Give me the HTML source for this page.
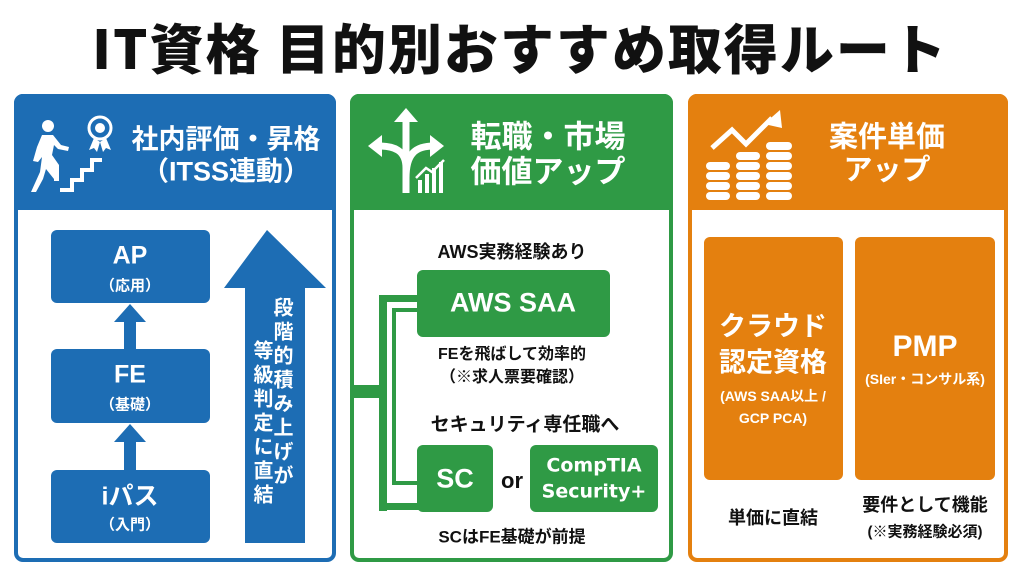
<!DOCTYPE html>
<html><head><meta charset="utf-8"><style>
*{margin:0;padding:0;box-sizing:border-box}
body{width:1024px;height:572px;background:#fff;position:relative;overflow:hidden;font-family:"Liberation Sans","Noto Sans CJK JP",sans-serif;font-weight:bold}
.a{position:absolute}
.t{position:absolute;white-space:nowrap;transform:translate(-50%,-50%);line-height:1}
.w{color:#fff}
.k{color:#111}
.panel{position:absolute;border-radius:9px;border:4px solid}
.box{position:absolute;border-radius:6px}
.v{position:absolute;writing-mode:vertical-rl;font-size:20px;line-height:20px;letter-spacing:4px;color:#fff;white-space:nowrap;font-family:"Noto Sans CJK JP",sans-serif}
</style></head><body>
<div class="t k" style="left:520px;top:46px;font-size:54px;font-weight:900;letter-spacing:2px;font-family:'Noto Sans CJK JP',sans-serif">IT資格 目的別おすすめ取得ルート</div>

<!-- panel 1 -->
<div class="panel" style="left:14px;top:94px;width:322px;height:468px;border-color:#1d6db4"></div>
<div class="a" style="left:14px;top:94px;width:322px;height:116px;background:#1d6db4;border-radius:9px 9px 0 0"></div>
<svg class="a" style="left:28px;top:108px" width="90" height="90" viewBox="0 0 90 90">
<g fill="#fff"><circle cx="20" cy="18" r="6"/><path d="M14 27h11l8 10 8 2-1 4-10-2-4-4-2 10 7 10v16h-5V71l-8-10-3 10-7 13H3l9-20 2-15-4 5-5-1 4-14z"/>
<path d="M32 84v-4h10v-10h10v-10h10v-10h12v4h-8v10h-10v10h-10v10h-10v0z" /></g>
<g fill="none" stroke="#fff" stroke-width="3"><circle cx="72" cy="20" r="11"/></g><circle cx="72" cy="20" r="5" fill="#fff"/>
<path d="M66 30l-5 12 5-2 3 4 3-10zM78 30l5 12-5-2-3 4-3-10z" fill="#fff"/>
</svg>
<div class="t w" style="left:226px;top:140px;font-size:27px">社内評価・昇格</div>
<div class="t w" style="left:226px;top:172px;font-size:27px">（ITSS連動）</div>
<div class="box" style="left:51px;top:230px;width:159px;height:73px;background:#1d6db4"></div>
<div class="t w" style="left:130px;top:256px;font-size:25px">AP</div>
<div class="t w" style="left:130px;top:286px;font-size:15px">（応用）</div>
<div class="box" style="left:51px;top:349px;width:159px;height:74px;background:#1d6db4"></div>
<div class="t w" style="left:130px;top:375px;font-size:25px">FE</div>
<div class="t w" style="left:130px;top:405px;font-size:15px">（基礎）</div>
<div class="box" style="left:51px;top:470px;width:159px;height:73px;background:#1d6db4"></div>
<div class="t w" style="left:130px;top:497px;font-size:25px">iパス</div>
<div class="t w" style="left:130px;top:525px;font-size:15px">（入門）</div>
<svg class="a" style="left:0;top:0" width="340" height="572">
<g fill="#1d6db4">
<path d="M130 304l16 18h-10v28h-12v-28h-10z"/>
<path d="M130 424l16 18h-10v28h-12v-28h-10z"/>
<path d="M267 230l59 58h-21v255h-60v-255h-21z"/>
</g></svg>
<div class="v" style="left:273px;top:297px">段階的積み上げが</div>
<div class="v" style="left:253px;top:340px">等級判定に直結</div>

<!-- panel 2 -->
<div class="panel" style="left:350px;top:94px;width:323px;height:468px;border-color:#2f9a45"></div>
<div class="a" style="left:350px;top:94px;width:323px;height:116px;background:#2f9a45;border-radius:9px 9px 0 0"></div>
<svg class="a" style="left:366px;top:108px" width="80" height="90" viewBox="0 0 80 90">
<g fill="none" stroke="#fff" stroke-width="7"><path d="M40 85V10"/><path d="M40 60c0-18-12-22-28-22"/><path d="M40 70c0-25 10-32 28-32"/></g>
<g fill="#fff"><path d="M40 0l12 14H28z"/><path d="M2 38l14-11v22z"/><path d="M78 38l-14-11v22z"/>
<rect x="52" y="72" width="4" height="13"/><rect x="59" y="66" width="4" height="19"/><rect x="66" y="60" width="4" height="25"/><rect x="73" y="54" width="4" height="31"/></g>
<path d="M50 70l10-10 6 4 12-12" fill="none" stroke="#fff" stroke-width="2.5"/>
</svg>
<div class="t w" style="left:548px;top:137px;font-size:31px">転職・市場</div>
<div class="t w" style="left:548px;top:172px;font-size:31px">価値アップ</div>
<div class="t k" style="left:512px;top:252px;font-size:18px">AWS実務経験あり</div>
<div class="box" style="left:417px;top:270px;width:193px;height:67px;background:#2f9a45"></div>
<div class="t w" style="left:513px;top:303px;font-size:27px">AWS SAA</div>
<div class="t k" style="left:512px;top:355px;font-size:16px">FEを飛ばして効率的</div>
<div class="t k" style="left:512px;top:378px;font-size:16px">（※求人票要確認）</div>
<div class="t k" style="left:525px;top:425px;font-size:19px">セキュリティ専任職へ</div>
<div class="box" style="left:417px;top:445px;width:76px;height:67px;background:#2f9a45"></div>
<div class="t w" style="left:455px;top:479px;font-size:27px">SC</div>
<div class="t k" style="left:512px;top:481px;font-size:22px">or</div>
<div class="box" style="left:530px;top:445px;width:128px;height:67px;background:#2f9a45"></div>
<div class="t w" style="left:594px;top:466px;font-size:19px;font-family:'DejaVu Sans',sans-serif">CompTIA</div>
<div class="t w" style="left:594px;top:492px;font-size:19px;font-family:'DejaVu Sans',sans-serif">Security+</div>
<div class="t k" style="left:512px;top:537px;font-size:17px">SCはFE基礎が前提</div>
<div class="a" style="left:379px;top:295px;width:40px;height:7px;background:#2f9a45"></div>
<div class="a" style="left:379px;top:295px;width:8px;height:216px;background:#2f9a45"></div>
<div class="a" style="left:379px;top:503px;width:40px;height:7px;background:#2f9a45"></div>
<div class="a" style="left:392px;top:308px;width:27px;height:4px;background:#2f9a45"></div>
<div class="a" style="left:392px;top:308px;width:4px;height:177px;background:#2f9a45"></div>
<div class="a" style="left:392px;top:481px;width:27px;height:4px;background:#2f9a45"></div>
<div class="a" style="left:352px;top:385px;width:35px;height:13px;background:#2f9a45"></div>

<!-- panel 3 -->
<div class="panel" style="left:688px;top:94px;width:320px;height:468px;border-color:#e4800f"></div>
<div class="a" style="left:688px;top:94px;width:320px;height:116px;background:#e4800f;border-radius:9px 9px 0 0"></div>
<svg class="a" style="left:704px;top:108px" width="100" height="95" viewBox="0 0 100 95">
<path d="M8 40l20-18 14 14 26-26" fill="none" stroke="#fff" stroke-width="5"/>
<path d="M76 2l2 18-18-4z" fill="#fff"/>
<g fill="#fff">
<rect x="2" y="54" width="24" height="8" rx="4"/><rect x="2" y="64" width="24" height="8" rx="4"/><rect x="2" y="74" width="24" height="8" rx="4"/><rect x="2" y="84" width="24" height="8" rx="4"/>
<rect x="32" y="44" width="24" height="8" rx="4"/><rect x="32" y="54" width="24" height="8" rx="4"/><rect x="32" y="64" width="24" height="8" rx="4"/><rect x="32" y="74" width="24" height="8" rx="4"/><rect x="32" y="84" width="24" height="8" rx="4"/>
<rect x="62" y="34" width="26" height="8" rx="4"/><rect x="62" y="44" width="26" height="8" rx="4"/><rect x="62" y="54" width="26" height="8" rx="4"/><rect x="62" y="64" width="26" height="8" rx="4"/><rect x="62" y="74" width="26" height="8" rx="4"/><rect x="62" y="84" width="26" height="8" rx="4"/>
</g></svg>
<div class="t w" style="left:887px;top:138px;font-size:29px">案件単価</div>
<div class="t w" style="left:887px;top:171px;font-size:29px">アップ</div>
<div class="box" style="left:704px;top:237px;width:139px;height:243px;background:#e4800f"></div>
<div class="t w" style="left:773px;top:327px;font-size:27px">クラウド</div>
<div class="t w" style="left:773px;top:363px;font-size:27px">認定資格</div>
<div class="t w" style="left:773px;top:396px;font-size:14px">(AWS SAA以上 /</div>
<div class="t w" style="left:773px;top:418px;font-size:14px">GCP PCA)</div>
<div class="box" style="left:855px;top:237px;width:140px;height:243px;background:#e4800f"></div>
<div class="t w" style="left:925px;top:347px;font-size:30px">PMP</div>
<div class="t w" style="left:925px;top:379px;font-size:14px">(SIer・コンサル系)</div>
<div class="t k" style="left:773px;top:518px;font-size:18px">単価に直結</div>
<div class="t k" style="left:925px;top:505px;font-size:18px">要件として機能</div>
<div class="t k" style="left:925px;top:532px;font-size:15px">(※実務経験必須)</div>
</body></html>
